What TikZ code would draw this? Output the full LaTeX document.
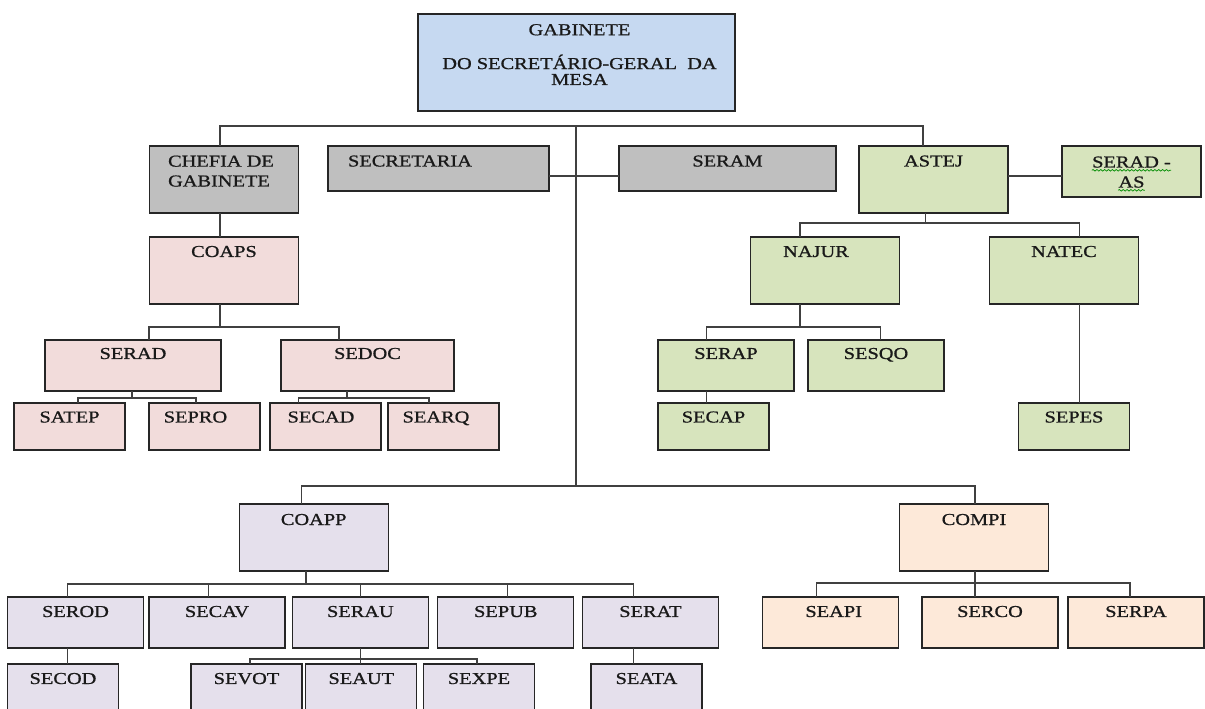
\documentclass[tikz,border=0pt]{standalone}
\usepackage{fontspec}
\setmainfont{Liberation Serif}[FakeStretch=1.22,FakeBold=0.9]
\usepackage{tikz}
\usetikzlibrary{positioning,decorations.pathmorphing}
\usepackage{xcolor}
\definecolor{azul}{RGB}{198,217,241}
\definecolor{cinza}{RGB}{191,191,191}
\definecolor{rosa}{RGB}{242,220,219}
\definecolor{verde}{RGB}{215,228,189}
\definecolor{lilas}{RGB}{229,224,236}
\definecolor{pessego}{RGB}{253,233,217}
\tikzstyle{unit}=[rectangle,draw=black!85,line width=0.75pt,inner sep=0pt,outer sep=0pt]
\tikzstyle{bigbox}=[unit,minimum width=2.98cm,minimum height=1.34cm]
\tikzstyle{midbox}=[unit,minimum width=2.72cm,minimum height=1.02cm]
\tikzstyle{smallbox}=[unit,minimum width=2.22cm,minimum height=0.94cm]
\tikzstyle{lbl}=[anchor=base,inner sep=0pt,text=black!90,font=\fontsize{9.5}{11.3}\selectfont]
\tikzstyle{link}=[draw=black!75,line width=0.6pt]
\tikzstyle{squig}=[draw=green!55!black,line width=0.4pt,decorate,decoration={snake,amplitude=0.45pt,segment length=2.2pt}]

\begin{document}
\begin{tikzpicture}[x=0.02cm,y=-0.02cm]

  \fill[white] (0,0) rectangle (1205,709);
  \useasboundingbox (0,0) rectangle (1205,709);

  % top
  \node[unit,fill=azul,minimum width=6.34cm,minimum height=1.94cm] (gab) at (576.5,62.5) {};
  \node[bigbox,fill=cinza] (chefia) at (224,179.5) {};
  \node[unit,fill=cinza,minimum width=4.42cm,minimum height=0.9cm] (secr) at (438.5,168.5) {};
  \node[unit,fill=cinza,minimum width=4.34cm,minimum height=0.9cm] (seram) at (727.5,168.5) {};
  \node[bigbox,fill=verde] (astej) at (933.5,179.5) {};
  \node[unit,fill=verde,minimum width=2.78cm,minimum height=1.02cm] (seradas) at (1131.5,171.5) {};

  % chefia
  \node[bigbox,fill=rosa] (coaps) at (224,270.5) {};
  \node[unit,fill=rosa,minimum width=3.52cm,minimum height=1.02cm] (serad) at (133,365.5) {};
  \node[unit,fill=rosa,minimum width=3.46cm,minimum height=1.02cm] (sedoc) at (367.5,365.5) {};
  \node[smallbox,fill=rosa] (satep) at (69.5,426.5) {};
  \node[smallbox,fill=rosa] (sepro) at (204.5,426.5) {};
  \node[smallbox,fill=rosa] (secad) at (325.5,426.5) {};
  \node[smallbox,fill=rosa] (searq) at (443.5,426.5) {};

  % astej
  \node[bigbox,fill=verde] (najur) at (825,270.5) {};
  \node[bigbox,fill=verde] (natec) at (1064,270.5) {};
  \node[midbox,fill=verde] (serap) at (726,365.5) {};
  \node[midbox,fill=verde] (sesqo) at (876,365.5) {};
  \node[smallbox,fill=verde] (secap) at (713.5,426.5) {};
  \node[smallbox,fill=verde] (sepes) at (1074,426.5) {};

  % coapp
  \node[bigbox,fill=lilas] (coapp) at (313.7,537.5) {};
  \node[midbox,fill=lilas] (serod) at (75.5,622.5) {};
  \node[midbox,fill=lilas] (secav) at (217,622.5) {};
  \node[midbox,fill=lilas] (serau) at (360.4,622.5) {};
  \node[midbox,fill=lilas] (sepub) at (505.8,622.5) {};
  \node[midbox,fill=lilas] (serat) at (650.4,622.5) {};
  \node[smallbox,fill=lilas] (secod) at (63,687.5) {};
  \node[smallbox,fill=lilas] (sevot) at (246.5,687.5) {};
  \node[smallbox,fill=lilas] (seaut) at (361.3,687.5) {};
  \node[smallbox,fill=lilas] (sexpe) at (479,687.5) {};
  \node[smallbox,fill=lilas] (seata) at (646.5,687.5) {};

  % compi
  \node[bigbox,fill=pessego] (compi) at (974,537.5) {};
  \node[midbox,fill=pessego] (seapi) at (830.7,622.5) {};
  \node[midbox,fill=pessego] (serco) at (990,622.5) {};
  \node[midbox,fill=pessego] (serpa) at (1136,622.5) {};

  % texts
  \node[lbl,align=center,font=\fontsize{9.5}{9.07}\selectfont] (t) at ([xshift=0.06cm,yshift=-1.42cm]gab.north)
    {GABINETE\\[10.2pt]DO SECRETÁRIO-GERAL\ \ DA\\MESA};
  \node[lbl,align=left] (t) at ([xshift=-0.06cm,yshift=-0.81cm]chefia.north) {CHEFIA DE\\GABINETE};
  \node[lbl] (t) at ([xshift=-0.57cm,yshift=-0.41cm]secr.north) {SECRETARIA};
  \node[lbl] (t) at ([yshift=-0.41cm]seram.north) {SERAM};
  \node[lbl] (t) at ([yshift=-0.41cm]astej.north) {ASTEJ};
  \node[lbl] (sa1) at ([yshift=-0.43cm]seradas.north) {SERAD -};
  \node[lbl] (sa2) at ([yshift=-0.83cm]seradas.north) {AS};
  \node[lbl] (t) at ([yshift=-0.40cm]coaps.north) {COAPS};
  \node[lbl] (t) at ([yshift=-0.38cm]serad.north) {SERAD};
  \node[lbl] (t) at ([yshift=-0.38cm]sedoc.north) {SEDOC};
  \node[lbl] (t) at ([yshift=-0.39cm]satep.north) {SATEP};
  \node[lbl] (t) at ([xshift=-0.18cm,yshift=-0.39cm]sepro.north) {SEPRO};
  \node[lbl] (t) at ([xshift=-0.09cm,yshift=-0.39cm]secad.north) {SECAD};
  \node[lbl] (t) at ([xshift=-0.15cm,yshift=-0.39cm]searq.north) {SEARQ};
  \node[lbl] (t) at ([xshift=-0.18cm,yshift=-0.40cm]najur.north) {NAJUR};
  \node[lbl] (t) at ([yshift=-0.40cm]natec.north) {NATEC};
  \node[lbl] (t) at ([yshift=-0.38cm]serap.north) {SERAP};
  \node[lbl] (t) at ([yshift=-0.38cm]sesqo.north) {SESQO};
  \node[lbl] (t) at ([yshift=-0.39cm]secap.north) {SECAP};
  \node[lbl] (t) at ([yshift=-0.39cm]sepes.north) {SEPES};
  \node[lbl] (t) at ([yshift=-0.42cm]coapp.north) {COAPP};
  \node[lbl] (t) at ([yshift=-0.40cm]serod.north) {SEROD};
  \node[lbl] (t) at ([yshift=-0.40cm]secav.north) {SECAV};
  \node[lbl] (t) at ([yshift=-0.40cm]serau.north) {SERAU};
  \node[lbl] (t) at ([yshift=-0.40cm]sepub.north) {SEPUB};
  \node[lbl] (t) at ([yshift=-0.40cm]serat.north) {SERAT};
  \node[lbl] (t) at ([yshift=-0.40cm]secod.north) {SECOD};
  \node[lbl] (t) at ([yshift=-0.40cm]sevot.north) {SEVOT};
  \node[lbl] (t) at ([yshift=-0.40cm]seaut.north) {SEAUT};
  \node[lbl] (t) at ([yshift=-0.40cm]sexpe.north) {SEXPE};
  \node[lbl] (t) at ([yshift=-0.40cm]seata.north) {SEATA};
  \node[lbl] (t) at ([yshift=-0.42cm]compi.north) {COMPI};
  \node[lbl] (t) at ([xshift=0.06cm,yshift=-0.40cm]seapi.north) {SEAPI};
  \node[lbl] (t) at ([yshift=-0.40cm]serco.north) {SERCO};
  \node[lbl] (t) at ([yshift=-0.40cm]serpa.north) {SERPA};

  \draw[squig] ([yshift=-1.6pt]sa1.base west) -- ([yshift=-1.6pt]sa1.base east);
  \draw[squig] ([yshift=-1.6pt]sa2.base west) -- ([yshift=-1.6pt]sa2.base east);

  % junctions
  \coordinate (b0l) at (220,126);
  \coordinate (b0r) at (923,126);
  \coordinate (tr0) at (576,126);
  \coordinate (tr1) at (576,486);
  \coordinate (b9l) at (301.6,486);
  \coordinate (b9r) at (975,486);
  \coordinate (mid) at (576,176);
  \coordinate (j1) at (220,327);
  \coordinate (j1l) at (149,327);
  \coordinate (j1r) at (339,327);
  \coordinate (j2) at (132,398);
  \coordinate (j2l) at (78,398);
  \coordinate (j2r) at (196,398);
  \coordinate (j3) at (347,398);
  \coordinate (j3l) at (298.5,398);
  \coordinate (j3r) at (429,398);
  \coordinate (j4) at (925.5,223);
  \coordinate (j4l) at (800,223);
  \coordinate (j4r) at (1079.5,223);
  \coordinate (j5l) at (706.6,327);
  \coordinate (j5r) at (880.7,327);
  \coordinate (j6) at (306,584);
  \coordinate (j6l) at (67.5,584);
  \coordinate (j6r) at (633.6,584);
  \coordinate (j7l) at (250,659);
  \coordinate (j7r) at (477,659);
  \coordinate (j8) at (975,583);
  \coordinate (j8l) at (816.7,583);
  \coordinate (j8r) at (1130,583);

  \draw[link] (chefia.north -| b0l) -- (b0l) -- (b0r) -- (astej.north -| b0r);
  \draw[link] (tr0) -- (tr1);
  \draw[link] (secr.east |- mid) -- (seram.west |- mid);
  \draw[link] (astej.east |- mid) -- (seradas.west |- mid);
  \draw[link] (coapp.north -| b9l) -- (b9l) -- (b9r) -- (compi.north -| b9r);

  \draw[link] (chefia.south -| b0l) -- (coaps.north -| b0l);
  \draw[link] (coaps.south -| j1) -- (j1);
  \draw[link] (serad.north -| j1l) -- (j1l) -- (j1r) -- (sedoc.north -| j1r);
  \draw[link] (serad.south -| j2) -- (j2);
  \draw[link] (satep.north -| j2l) -- (j2l) -- (j2r) -- (sepro.north -| j2r);
  \draw[link] (sedoc.south -| j3) -- (j3);
  \draw[link] (secad.north -| j3l) -- (j3l) -- (j3r) -- (searq.north -| j3r);

  \draw[link] (astej.south -| j4) -- (j4);
  \draw[link] (najur.north -| j4l) -- (j4l) -- (j4r) -- (natec.north -| j4r);
  \draw[link] (najur.south -| j4l) -- (j4l |- j5l);
  \draw[link] (serap.north -| j5l) -- (j5l) -- (j5r) -- (sesqo.north -| j5r);
  \draw[link] (serap.south -| j5l) -- (secap.north -| j5l);
  \draw[link] (natec.south -| j4r) -- (sepes.north -| j4r);

  \draw[link] (coapp.south -| j6) -- (j6);
  \draw[link] (serod.north -| j6l) -- (j6l) -- (j6r) -- (serat.north -| j6r);
  \draw[link] ([xshift=-0.17cm]secav.north |- j6) -- ([xshift=-0.17cm]secav.north);
  \draw[link] (serau.north |- j6) -- (serau.north);
  \draw[link] ([xshift=0.04cm]sepub.north |- j6) -- ([xshift=0.04cm]sepub.north);
  \draw[link] (serod.south -| j6l) -- (secod.north -| j6l);
  \draw[link] (serat.south -| j6r) -- (seata.north -| j6r);
  \draw[link] (serau.south) -- (seaut.north -| serau.south);
  \draw[link] (sevot.north -| j7l) -- (j7l) -- (j7r) -- (sexpe.north -| j7r);

  \draw[link] (compi.south -| j8) -- (j8);
  \draw[link] (seapi.north -| j8l) -- (j8l) -- (j8r) -- (serpa.north -| j8r);
  \draw[link] (j8) -- (serco.north -| j8);

\end{tikzpicture}
\end{document}
